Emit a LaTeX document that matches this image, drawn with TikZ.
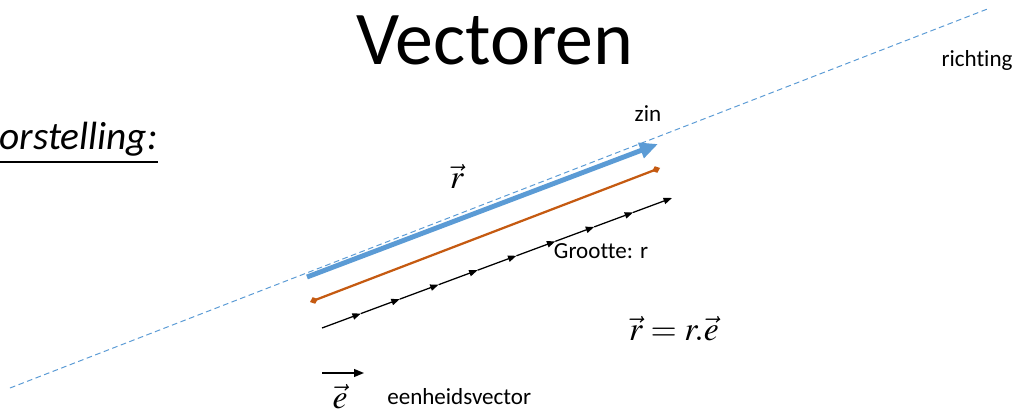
\documentclass[tikz,border=0pt]{standalone}
\usepackage{mathptmx}
\usepackage{fontspec}
\setmainfont[Ligatures={NoCommon}]{Carlito}
\usetikzlibrary{arrows.meta,calc}
\definecolor{ofblue}{RGB}{91,155,213}
\definecolor{oforange}{RGB}{197,90,17}

\begin{document}
\begin{tikzpicture}[x=0.025cm,y=-0.025cm,
  lbl/.style={font=\fontsize{16.4}{18}\selectfont,inner sep=0pt,anchor=base},
  mth/.style={font=\fontsize{24}{28}\selectfont,inner sep=0pt,anchor=base},
  arr/.style={-{Triangle[length=6pt,width=4.5pt]},line width=0.9pt}
]
\useasboundingbox (0,0) rectangle (1018,413);

\node[font=\fontsize{54}{60}\selectfont,inner sep=0pt,anchor=base] (title) at (495,65) {Vectoren};
\node[font=\fontsize{28}{32}\selectfont\itshape,inner sep=0pt,anchor=base east] (voor) at (158,150)
  {\underline{Voorstelling:}};

% richting
\coordinate (dirA) at (10,388);
\coordinate (dirB) at (990,8);
\draw[ofblue,line width=0.7pt,dash pattern=on 4pt off 2.5pt] (dirA) -- (dirB);
\node[lbl] (richting) at (977,67) {richting};

% zin
\coordinate (rA) at (307,277);
\coordinate (rB) at (658,144);
\draw[ofblue,line width=3.5pt,-{Triangle[length=13pt,width=11pt]}] (rA) -- (rB);
\node[lbl] (zin) at (648,122) {zin};
\node[mth] (rlbl) at (457,189) {$\vec{r}$};

% grootte
\coordinate (oA) at (310,302);
\coordinate (oB) at (660,168);
\draw[oforange,line width=1.6pt,{Diamond[length=6pt,width=5pt]}-{Diamond[length=6pt,width=5pt]}] (oA) -- (oB);

\coordinate (bA) at (322,328);
\coordinate (bB) at (672,198);
\foreach \i [evaluate=\i as \j using \i-1] in {1,...,9}
  \draw[arr] ($(bA)!\j/9!(bB)$) -- ($(bA)!\i/9!(bB)$);
\node[lbl] (grootte) at (601,258) {Grootte: r};

\node[mth] (formule) at (674,340) {$\vec{r}=r.\vec{e}$};

% eenheidsvector
\node[mth] (elbl) at (340,408) {$\vec{e}$};
\coordinate (uA) at (322,373);
\coordinate (uB) at (364,373);
\draw[line width=1.1pt,-{Triangle[length=7pt,width=5.5pt]}] (uA) -- (uB);
\node[lbl,anchor=base west] (eenheid) at (387,404) {eenheidsvector};
\end{tikzpicture}
\end{document}
